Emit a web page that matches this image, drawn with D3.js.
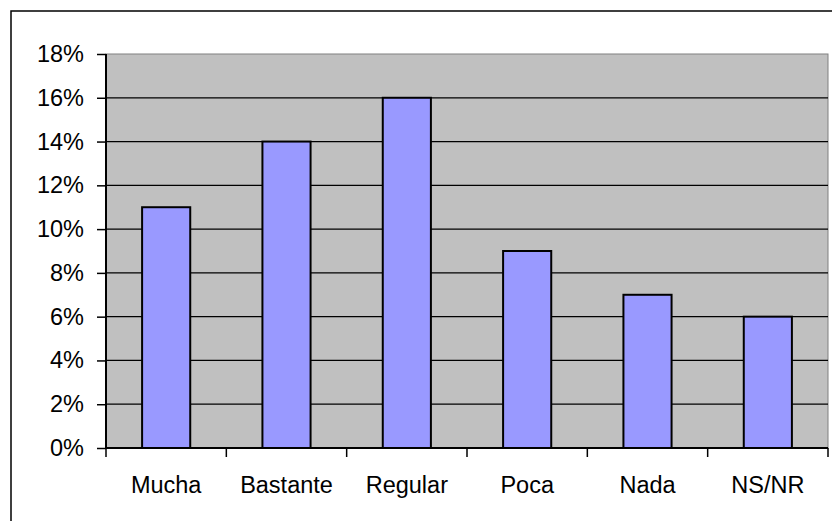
<!DOCTYPE html>
<html><head><meta charset="utf-8">
<script src="https://cdn.jsdelivr.net/npm/d3@7"></script>
<style>body{margin:0;background:#fff}svg{display:block}text{font-family:"Liberation Sans",Arial,sans-serif}</style>
</head><body>
<svg id="c" width="832" height="521"></svg>
<script>
const categories = ["Mucha","Bastante","Regular","Poca","Nada","NS/NR"];
const values = [11,14,16,9,7,6];
const yTicks = [0,2,4,6,8,10,12,14,16,18];

const svg = d3.select("#c");
const L=106, R=828, T=54, B=448;
svg.append("rect").attr("x",11).attr("y",11).attr("width",840).attr("height",540)
  .attr("fill","#fff").attr("stroke","#000").attr("stroke-width",1.5);

const x = d3.scaleBand().domain(categories).range([L,R]);
const y = d3.scaleLinear().domain([0,18]).range([B,T]);

svg.append("rect").attr("x",L).attr("y",T).attr("width",R-L).attr("height",B-T)
  .attr("fill","#C0C0C0").attr("stroke","#808080").attr("stroke-width",1);

// gridlines
svg.append("g").selectAll("line").data(yTicks.filter(d=>d>0 && d<18)).join("line")
  .attr("x1",L).attr("x2",R).attr("y1",d=>y(d)).attr("y2",d=>y(d))
  .attr("stroke","#000").attr("stroke-width",1.3);

// bars
const bw = x.bandwidth()*0.4;
svg.append("g").selectAll("rect").data(categories).join("rect")
  .attr("x",(d)=>x(d)+x.bandwidth()/2-bw/2)
  .attr("y",(d,i)=>y(values[i]))
  .attr("width",bw)
  .attr("height",(d,i)=>B-y(values[i]))
  .attr("fill","#9999FF").attr("stroke","#000").attr("stroke-width",2);

// y axis
const ya = svg.append("g").attr("transform",`translate(${L},0)`)
  .call(d3.axisLeft(y).tickValues(yTicks).tickFormat(d=>d+"%").tickSize(9).tickPadding(13));
ya.select(".domain").attr("stroke","#000").attr("stroke-width",2).attr("d",`M0,${T}V${B}`);
ya.selectAll(".tick line").attr("stroke","#000").attr("stroke-width",1.5);
ya.selectAll(".tick text").attr("font-size",23.5).attr("fill","#000").attr("font-family","Liberation Sans, Arial, sans-serif");

// x axis
const xa = svg.append("g").attr("transform",`translate(0,${B})`)
  .call(d3.axisBottom(x).tickSize(0).tickPadding(28));
xa.select(".domain").attr("stroke","#000").attr("stroke-width",2).attr("d",`M${L},0H${R}`);
xa.selectAll(".tick text").attr("font-size",23.5).attr("fill","#000").attr("font-family","Liberation Sans, Arial, sans-serif");
// boundary ticks
const bounds = categories.map(c=>x(c)).concat([R]);
xa.append("g").selectAll("line").data(bounds).join("line")
  .attr("x1",d=>d).attr("x2",d=>d).attr("y1",0).attr("y2",9)
  .attr("stroke","#000").attr("stroke-width",1.5);
</script>
</body></html>
